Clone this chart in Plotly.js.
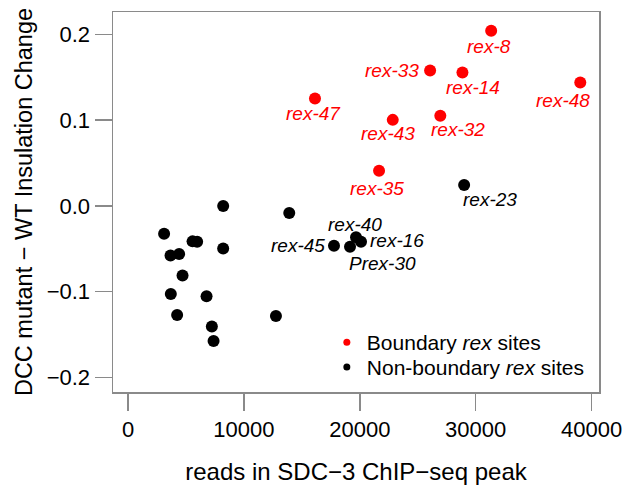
<!DOCTYPE html>
<html>
<head>
<meta charset="utf-8">
<script src="https://cdn.plot.ly/plotly-3.0.1.min.js"></script>
<style>html,body{margin:0;padding:0;background:#fff;}#chart{width:628px;height:497px;}</style>
</head>
<body>
<div id="chart"></div>
<script>
// Boundary rex sites (red)
var boundaryNames = ["rex-8", "rex-33", "rex-14", "rex-48", "rex-47", "rex-43", "rex-32", "rex-35"];
var boundaryReads = [31335, 26065, 28855, 39024, 16130, 22842, 26946, 21659];
var boundaryChange = [0.2045, 0.158, 0.1556, 0.144, 0.1253, 0.1004, 0.1051, 0.0411];

// Non-boundary rex sites (black)
var nonBoundaryNames = ["rex-23", "rex-45", "rex-40", "rex-16", "Prex-30",
  "", "", "", "", "", "", "", "", "", "", "", "", "", "", ""];
var nonBoundaryReads = [29002, 17771, 19672, 20104, 19153,
  8207, 13909, 3110, 5564, 5961, 8207, 3663, 4406, 4700, 3689, 6773, 4233, 12760, 7231, 7378];
var nonBoundaryChange = [0.0244, -0.0465, -0.0367, -0.0418, -0.0477,
  0.0, -0.0082, -0.0325, -0.0414, -0.0418, -0.0496, -0.0578, -0.0562, -0.0812, -0.1027, -0.1054, -0.1273, -0.1284, -0.1408, -0.1576];

var xTicks = [0, 10000, 20000, 30000, 40000];
var yTicks = [-0.2, -0.1, 0.0, 0.1, 0.2];

// label offsets (pixels) – styling only
var boundaryDx = [-2, -38, 11, -17, -1, -5, 18, -2];
var boundaryDy = [16, 0, 15, 18, 15, 14, 14, 18];
var nonBoundaryDx = [26, -36, -1, 36, 32];
var nonBoundaryDy = [15, 0, -13, -1, 17];

var FONT = "Liberation Sans, Arial, Helvetica, sans-serif";
var RED = "#ff0000";

var traces = [
  {x: nonBoundaryReads, y: nonBoundaryChange, mode: "markers", type: "scatter",
   marker: {color: "#000000", size: 12}, showlegend: false, hoverinfo: "none"},
  {x: boundaryReads, y: boundaryChange, mode: "markers", type: "scatter",
   marker: {color: RED, size: 12}, showlegend: false, hoverinfo: "none"},
  {x: [null], y: [null], mode: "markers", type: "scatter", name: "Boundary <i>rex</i> sites",
   marker: {color: RED, size: 7}, legend: "legend"},
  {x: [null], y: [null], mode: "markers", type: "scatter", name: "Non-boundary <i>rex</i> sites",
   marker: {color: "#000000", size: 7}, legend: "legend2"}
];

var annotations = [];
boundaryNames.forEach(function (n, i) {
  annotations.push({x: boundaryReads[i], y: boundaryChange[i], text: "<i>" + n + "</i>",
    showarrow: false, xanchor: "center", yanchor: "middle",
    xshift: boundaryDx[i], yshift: -boundaryDy[i],
    font: {family: FONT, size: 19, color: RED}});
});
nonBoundaryNames.forEach(function (n, i) {
  if (!n) return;
  annotations.push({x: nonBoundaryReads[i], y: nonBoundaryChange[i], text: "<i>" + n + "</i>",
    showarrow: false, xanchor: "center", yanchor: "middle",
    xshift: nonBoundaryDx[i], yshift: -nonBoundaryDy[i],
    font: {family: FONT, size: 19, color: "#000000"}});
});

var legendCommon = {
  xref: "paper", yref: "paper", xanchor: "left", yanchor: "middle",
  bgcolor: "rgba(0,0,0,0)", borderwidth: 0,
  font: {family: FONT, size: 21, color: "#000000"}
};

var layout = {
  width: 628, height: 497,
  margin: {l: 113, r: 29, t: 12, b: 105},
  paper_bgcolor: "#ffffff", plot_bgcolor: "#ffffff",
  font: {family: FONT, color: "#000000"},
  xaxis: {
    range: [-1300, 40640], tickvals: xTicks, tickformat: "d",
    showgrid: false, zeroline: false,
    showline: true, mirror: true, linecolor: "#8a8a8a", linewidth: 1.5,
    ticks: "outside", ticklen: 17, tickcolor: "#8a8a8a", tickwidth: 1.5,
    tickfont: {family: FONT, size: 22, color: "#000000"},
    title: {text: "reads in SDC\u22123 ChIP\u2212seq peak", font: {family: FONT, size: 24, color: "#000000"}, standoff: 22}
  },
  yaxis: {
    range: [-0.2172, 0.2263], tickvals: yTicks, tickformat: ".1f",
    showgrid: false, zeroline: false,
    showline: true, mirror: true, linecolor: "#8a8a8a", linewidth: 1.5,
    ticks: "outside", ticklen: 17, tickcolor: "#8a8a8a", tickwidth: 1.5,
    tickfont: {family: FONT, size: 22, color: "#000000"},
    title: {text: "DCC mutant \u2212 WT Insulation Change", font: {family: FONT, size: 23.5, color: "#000000"}, standoff: 7}
  },
  legend: Object.assign({x: 0.44, y: 0.13}, legendCommon),
  legend2: Object.assign({x: 0.44, y: 0.065}, legendCommon),
  annotations: annotations,
  showlegend: true
};

Plotly.newPlot("chart", traces, layout, {staticPlot: true, displayModeBar: false});
</script>
</body>
</html>
